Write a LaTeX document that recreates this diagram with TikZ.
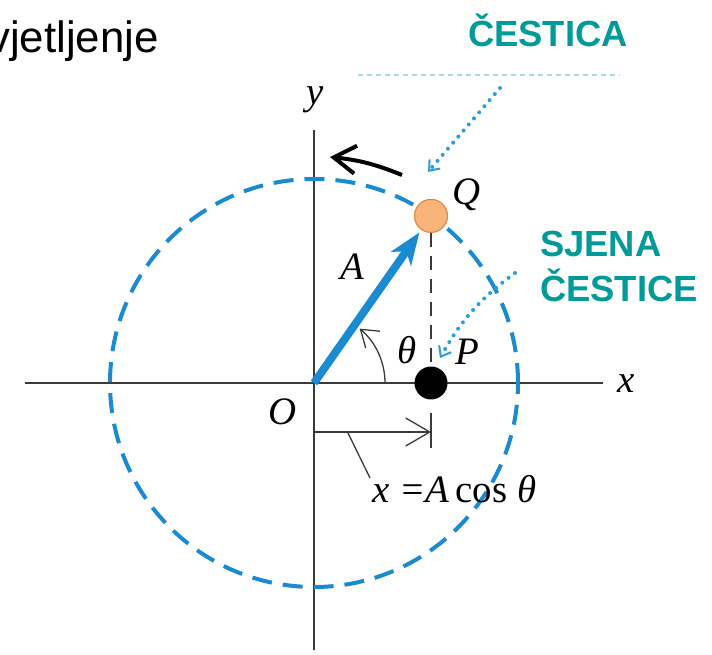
\documentclass[tikz,border=0pt]{standalone}
\usepackage{fontspec}
\setmainfont{Liberation Serif}
\newfontfamily\headfont{Liberation Sans}
\usetikzlibrary{positioning,arrows.meta,calc}
\definecolor{circblue}{HTML}{1B8BD1}
\definecolor{dotblue}{HTML}{2A9FDB}
\definecolor{tealtext}{HTML}{009B98}
\definecolor{qfill}{HTML}{F9B47C}
\definecolor{qedge}{HTML}{E08A4A}
\definecolor{axisgray}{HTML}{3A3A3A}

\begin{document}
\begin{tikzpicture}[x=1bp, y=1bp,
  axis/.style={draw=axisgray, line width=2.4bp},
  orbit/.style={draw=circblue, line width=4bp, dash pattern=on 20bp off 11bp},
  particle/.style={circle, draw=qedge, fill=qfill, line width=1.2bp,
    minimum size=33bp, inner sep=0pt},
  shadowdot/.style={circle, fill=black, minimum size=33bp, inner sep=0pt},
  vec/.style={draw=circblue, line width=8bp,
    -{Stealth[length=32bp,width=24bp,inset=9bp]}},
  thinline/.style={draw=axisgray, line width=1.3bp},
  drop/.style={thinline, dash pattern=on 14bp off 9bp},
  barb/.style={thinline, -{Straight Barb[length=24bp,width=28bp,line width=1.3bp]}},
  motion/.style={draw=black, line width=4bp,
    -{Straight Barb[length=22bp,width=28bp,line width=4bp]}},
  pointer/.style={draw=dotblue, line width=4bp, line cap=round,
    dash pattern=on 0bp off 8bp,
    -{Straight Barb[length=9bp,width=14bp,line width=2bp]}},
  lbl/.style={font=\fontsize{39}{42}\selectfont\itshape, inner sep=0pt},
  tag/.style={font=\fontsize{36.5}{44}\selectfont\headfont\bfseries,
    text=tealtext, inner sep=0pt}
]
\useasboundingbox (-314,-272) rectangle (398,383);

\coordinate (O) at (0,0);
\coordinate (xl) at (-289,0);
\coordinate (xr) at (289,0);
\coordinate (yb) at (0,-267);
\coordinate (yt) at (0,253);
\draw[axis] (xl) -- (xr);
\draw[axis] (yb) -- (yt);
\draw[orbit] (O) circle[radius=204];

\node[particle] (Q) at (55:204) {};
\coordinate (tick0) at ($(Q |- O)+(0,-30)$);
\coordinate (tick1) at ($(Q |- O)+(0,-65)$);
\draw[drop] (Q) -- (Q |- O);
\draw[thinline] (tick0) -- (tick1);
\node[shadowdot] (P) at (Q |- O) {};
\draw[vec, shorten >=3bp] (O) -- (Q);

\coordinate (ang) at (71,0);
\draw[thinline, -{Straight Barb[length=16bp,width=22bp,line width=1.3bp]}]
  (ang) arc[start angle=0, end angle=50, radius=71];

\coordinate (m0) at (0,-49);
\coordinate (m1) at (tick0 |- m0);
\draw[barb] (m0) -- (m1);
\coordinate (lead0) at (34,-50);
\coordinate (lead1) at (56,-95);
\draw[thinline] (lead0) -- (lead1);

\node[lbl] (Qlab) at (153,188) {Q};
\node[lbl] (Plab) at (153,31) {P};
\node[lbl] (Alab) at (38,116) {A};
\node[lbl] (thlab) at (93,33) {θ};
\node[lbl] (xlab) at (312,-1) {x};
\node[lbl] (ylab) at (1,283) {y};
\node[lbl] (Olab) at (-31,-29) {O};
\node[lbl, anchor=base west] (xeq) at (58,-119)
  {x =A\,\textup{cos} θ};

\coordinate (mv0) at (88,208);
\coordinate (mv1) at (16,226);
\draw[motion] (mv0) to[bend right=8] (mv1);

\node[font=\fontsize{44}{48}\selectfont\headfont, inner sep=0pt,
  anchor=base west] (title) at (-326,330) {vjetljenje};
\node[tag, anchor=base] (cestica) at (234,336) {ČESTICA};
\node[tag, anchor=base west] (sjena) at (226,126) {SJENA};
\node[tag, anchor=base west] (cestice) at ($(sjena.base west)+(0,-45)$) {ČESTICE};

\draw[dotblue!40, line width=2bp, dash pattern=on 5bp off 4bp] (44,308) -- (306,308);
\coordinate (p1s) at (186,295);
\coordinate (p1e) at (114,211);
\coordinate (p2s) at (201,110);
\coordinate (p2e) at (126,25);
\draw[pointer] (p1s) -- (p1e);
\draw[pointer] (p2s) to[bend right=12] (p2e);
\end{tikzpicture}
\end{document}
